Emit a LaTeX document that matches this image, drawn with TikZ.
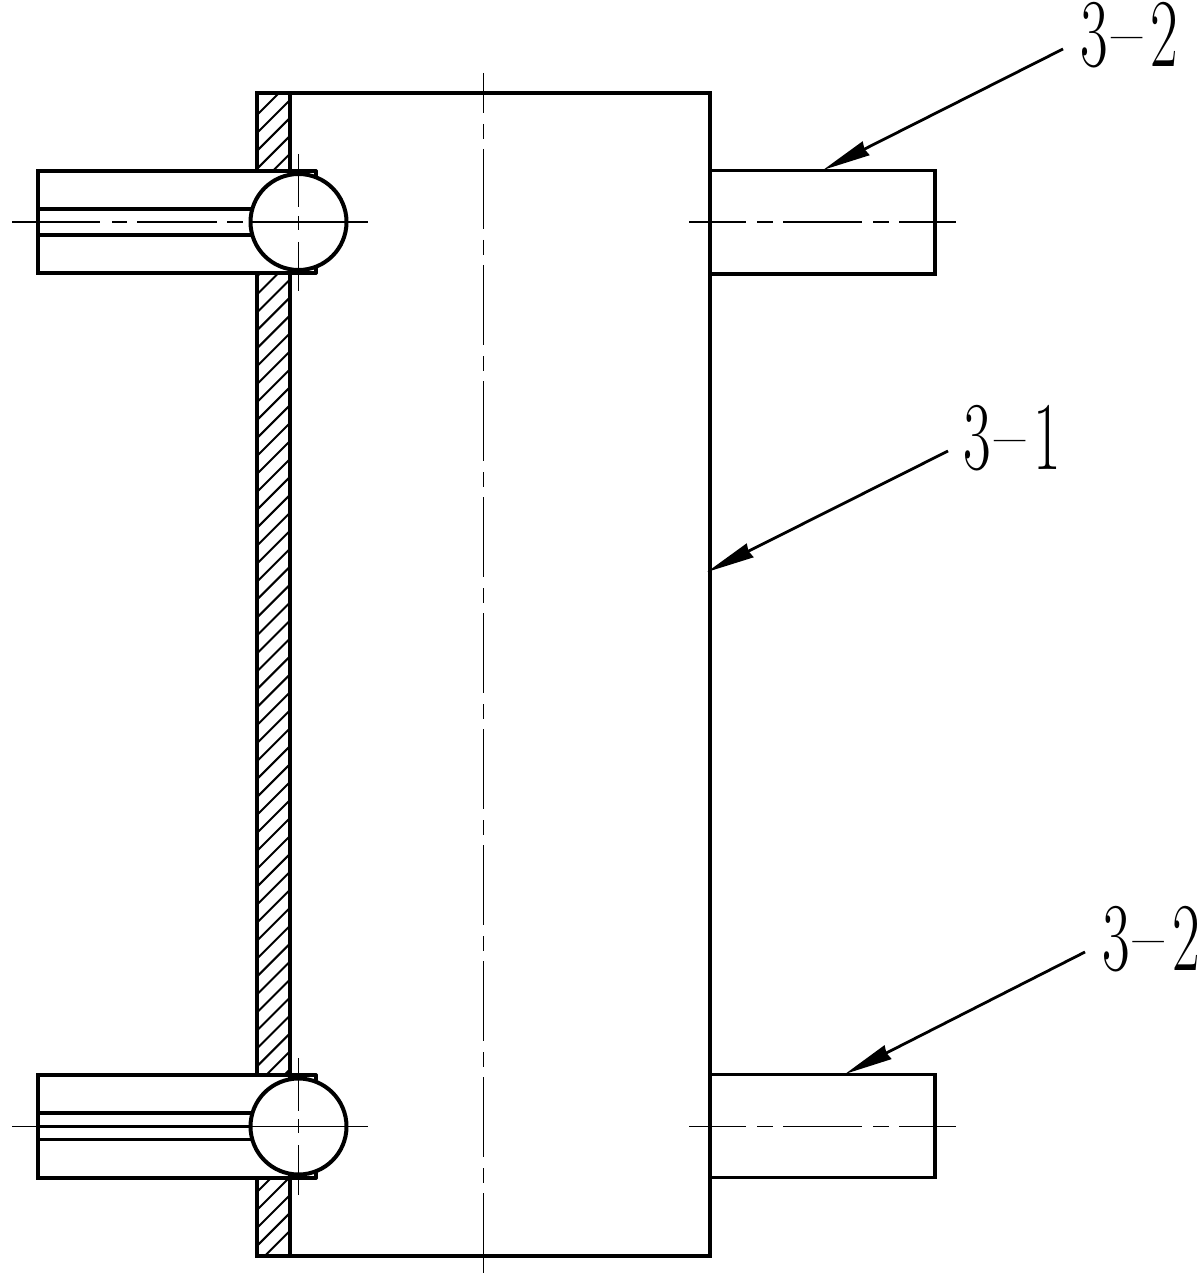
\documentclass[tikz,border=0pt]{standalone}
\usetikzlibrary{arrows.meta}
\newcommand{\lbl}[2]{\fontsize{30}{36}\selectfont\scalebox{1}[1.62]{#1}\kern1pt\raisebox{11pt}{\scalebox{2.1}[.5]{-}}\kern1pt\scalebox{1}[1.62]{#2}}
\tikzset{
  x=0.5pt,y=-0.5pt,
  outline/.style={line width=1.6pt,line join=miter,line cap=round},
  hatchline/.style={line width=1pt},
  centreline/.style={line width=0.8pt},
  axisdash/.style={centreline,dash pattern=on 40pt off 5.5pt on 7.5pt off 5pt},
  leader/.style={line width=1.4pt,-{Stealth[length=24pt,width=7.5pt,inset=0.8pt]}},
  partlabel/.style={inner sep=0pt,anchor=center},
  ball/.style={circle,draw,fill=white,line width=2pt,minimum size=48pt,inner sep=0pt},
}
\begin{document}
\begin{tikzpicture}
\useasboundingbox (0,0) rectangle (1200,1283);
\fill[white] (0,0) rectangle (1200,1283);
% hatching of the wall
\begin{scope}
\clip (257,93) rectangle (290,171) (257,273) rectangle (290,1074) (257,1178) rectangle (290,1256);
\foreach \k in {0,...,64}{
  \pgfmathsetmacro{\s}{372+17.95*\k}
  \draw[hatchline] (250,\s-250) -- (300,\s-300);
}
\end{scope}
% body
\draw[outline] (257,171) -- (257,93) -- (710,93) -- (710,1256) -- (257,1256) -- (257,1178);
\draw[outline] (257,273) -- (257,1074);
\draw[outline] (290,93) -- (290,176);
\draw[outline] (290,268) -- (290,1080);
\draw[outline] (290,1172) -- (290,1256);
% right stubs
\draw[outline] (710,170.5) -- (935,170.5) -- (935,274) -- (710,274);
\draw[outline] (710,1074.5) -- (935,1074.5) -- (935,1177.5) -- (710,1177.5);
% left stubs
\draw[outline] (316,171) -- (38,171) -- (38,273) -- (316,273);
\draw[outline] (316,171) -- (316,176) (316,273) -- (316,268);
\draw[outline] (38,209) -- (255,209) (38,235) -- (255,235);
\draw[outline] (316,1075) -- (38,1075) -- (38,1178) -- (316,1178);
\draw[outline] (316,1075) -- (316,1080) (316,1178) -- (316,1173);
\draw[outline] (38,1113) -- (255,1113) (38,1139.5) -- (255,1139.5) (38,1126.5) -- (255,1126.5);
% balls
\node[ball] (ballA) at (298.5,222) {};
\node[ball] (ballB) at (298.5,1126.5) {};
% centre lines
\draw[axisdash,dash phase=20pt] (483.5,73) -- (483.5,1277);
\draw[centreline] (12,222) -- (100,222) (112,222) -- (127,222) (137,222) -- (217,222) (227,222) -- (243,222) (250,222) -- (368,222);
\draw[centreline] (298.5,154) -- (298.5,207) (298.5,216) -- (298.5,230) (298.5,242) -- (298.5,291);
\draw[centreline] (12,1126.5) -- (38,1126.5) (250,1126.5) -- (368,1126.5);
\draw[centreline] (298.5,1058) -- (298.5,1111) (298.5,1119) -- (298.5,1133) (298.5,1145) -- (298.5,1195);
\draw[centreline] (689,222) -- (746,222) (757,222) -- (773,222) (783,222) -- (862,222) (873,222) -- (889,222) (899,222) -- (956,222);
\draw[centreline] (689,1126.5) -- (746,1126.5) (757,1126.5) -- (773,1126.5) (783,1126.5) -- (862,1126.5) (873,1126.5) -- (889,1126.5) (899,1126.5) -- (956,1126.5);
% labels and leaders
\node[partlabel] (labA) at (1129.5,35.5) {\lbl{3}{2}};
\node[partlabel] (labB) at (1012.5,438) {\lbl{3}{1}};
\node[partlabel] (labC) at (1151,939.5) {\lbl{3}{2}};
\coordinate (startA) at (1063,49);
\coordinate (tipA) at (823,170);
\coordinate (startB) at (948,451);
\coordinate (tipB) at (707,572);
\coordinate (startC) at (1085,952);
\coordinate (tipC) at (845,1074);
\draw[leader] (startA) -- (tipA);
\draw[leader] (startB) -- (tipB);
\draw[leader] (startC) -- (tipC);
\end{tikzpicture}
\end{document}
